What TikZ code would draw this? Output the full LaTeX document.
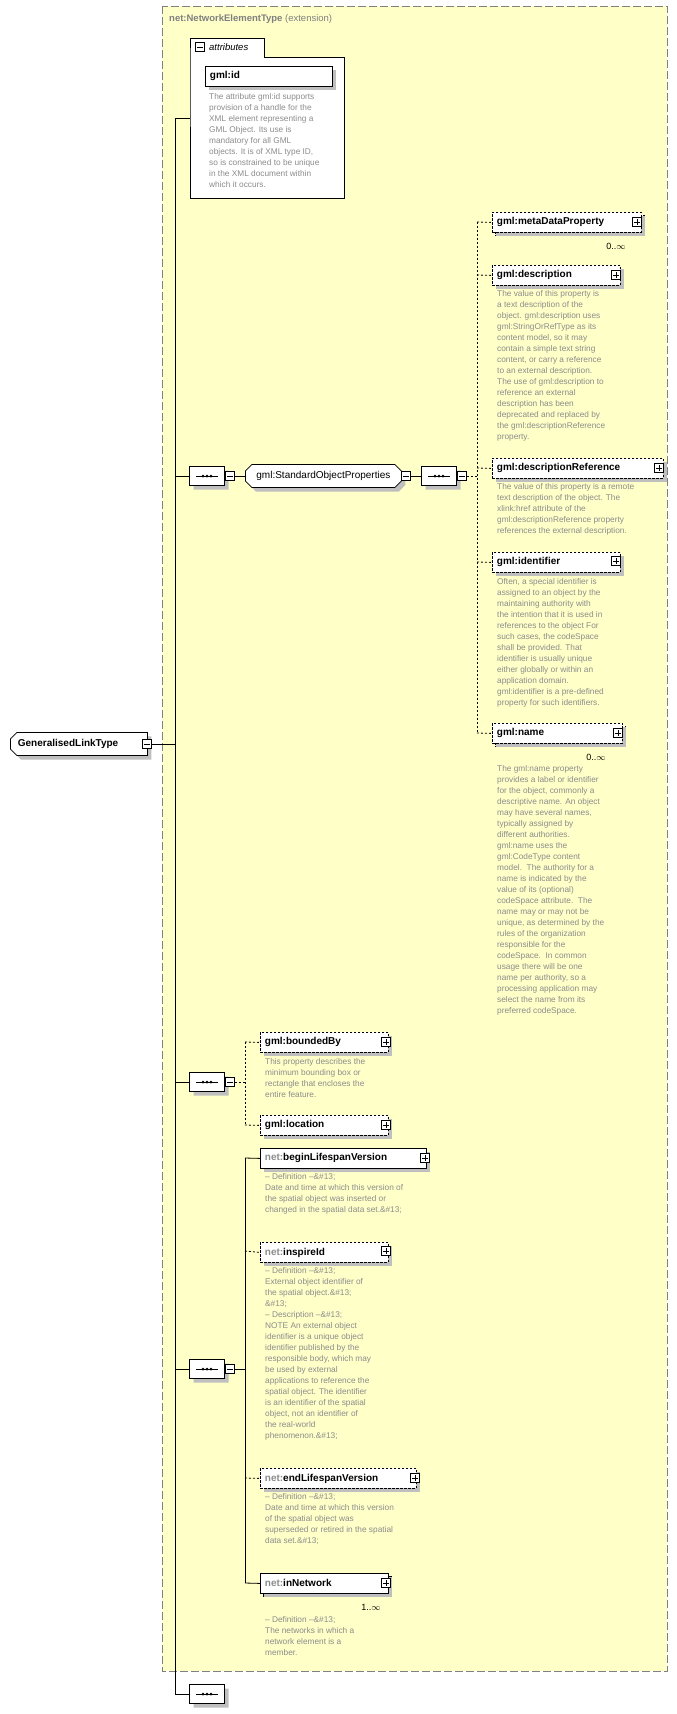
\documentclass[tikz,border=0pt]{standalone}
\usepackage{fontspec}
\setmainfont{Liberation Sans}
\usetikzlibrary{shapes.misc,shadows}
\definecolor{bgy}{HTML}{FFFFC8}
\definecolor{doc}{HTML}{8C8C8C}
\tikzset{
 shd/.style={general shadow={fill=black!25,shadow xshift=4pt,shadow yshift=-4pt}},
 elem/.style={draw,fill=white,line width=0.8pt,anchor=north west,minimum height=20pt,inner xsep=4pt,inner ysep=0pt,align=left,font=\fontsize{10}{12}\selectfont\bfseries,shd},
 opt/.style={dash pattern=on 2.5pt off 1.5pt},
 docu/.style={anchor=north west,inner sep=0pt,align=left,text=doc,font=\fontsize{8.3}{11}\selectfont},
 seq/.style={chamfered rectangle,chamfered rectangle xsep=3pt,draw,fill=white,line width=0.8pt,minimum width=35pt,minimum height=19pt,inner sep=0pt,shd},
 conn/.style={line width=0.8pt},
 dconn/.style={line width=0.8pt,dash pattern=on 2pt off 2pt},
 pm/.style={draw,fill=white,line width=0.6pt,minimum size=9pt,inner sep=0pt},
}
\newcommand{\plusat}[2]{\node[pm] at (#1,#2) {}; \draw[line width=0.6pt] (#1-3,#2) -- (#1+3,#2) (#1,#2-3) -- (#1,#2+3);}
\newcommand{\minusat}[3]{\node[pm] (#1) at (#2,#3) {}; \draw[line width=0.6pt] (#2-3,#3) -- (#2+3,#3);}
\newcommand{\seqat}[3]{\node[seq] (#1) at (#2,#3) {};
 \draw[line width=0.8pt] (#2-11,#3) -- (#2+11,#3);
 \fill (#2-4,#3) circle (1.5pt) (#2,#3) circle (1.5pt) (#2+4,#3) circle (1.5pt);}
\begin{document}
\begin{tikzpicture}[x=1pt,y=-1pt]
\useasboundingbox[fill=white] (0,0) rectangle (677,1714);
\draw[fill=bgy,draw=gray,line width=0.8pt,dash pattern=on 8pt off 3pt] (162,6) rectangle (667,1671);
\node[anchor=west,inner sep=0pt,text=gray,font=\fontsize{9.5}{11}\selectfont] (title) at (169,19) {\textbf{net:NetworkElementType} (extension)};
% attributes
\draw[fill=white,line width=0.8pt] (190,57) -- (190,38) -- (264,38) -- (264,57) -- (344,57) -- (344,198) -- (190,198) -- cycle;
\minusat{attmin}{200}{47}
\node[anchor=west,inner sep=0pt,font=\fontsize{9.5}{11}\selectfont\itshape] (attlab) at (209,47) {attributes};
\node[elem,minimum width=127pt,text width=118pt] (gmlid) at (205,66) {gml:id};
\node[docu] (d0) at (209,93) {The attribute gml:id supports\\provision of a handle for the\\XML element representing a\\GML Object. Its use is\\mandatory for all GML\\objects. It is of XML type ID,\\so is constrained to be unique\\in the XML document within\\which it occurs.};
% root
\node[chamfered rectangle,chamfered rectangle corners={north west,south west},chamfered rectangle xsep=3pt,draw,fill=white,line width=0.8pt,anchor=west,minimum height=20pt,minimum width=137pt,inner xsep=4pt,font=\fontsize{10}{12}\selectfont\bfseries,shd,text width=122pt,align=left] (root) at (10,744) {GeneralisedLinkType};
\minusat{rootmin}{147}{744}
\coordinate (ttop) at (175,118);
\coordinate (tbot) at (175,1694);
\draw[conn] (ttop) -- (tbot);
\draw[conn] (ttop) -- (190,118);
\draw[conn] (rootmin.east) -- (175,744);
% seq1
\seqat{s1}{207}{476}
\minusat{s1m}{230}{476}
\draw[conn] (175,476) -- (s1.west);
\node[chamfered rectangle,chamfered rectangle xsep=3pt,draw,fill=white,line width=0.8pt,anchor=west,minimum height=19pt,minimum width=156pt,inner xsep=5pt,font=\fontsize{10}{12}\selectfont,shd] (sop) at (245,476) {gml:StandardObjectProperties};
\minusat{sopm}{406}{476}
\draw[conn] (s1m.east) -- (sop.west);
\seqat{s2}{439}{476}
\minusat{s2m}{462}{476}
\draw[conn] (sopm.east) -- (s2.west);
\coordinate (b2) at (477,476);
\draw[dconn] (s2m.east) -- (b2);
\draw[dconn] (477,222) -- (477,733);
% children
\draw[fill=white,line width=0.8pt,opt] (495,215) rectangle (644,235);
\node[elem,opt,minimum width=149pt,text width=140pt] (meta) at (492,212) {gml:metaDataProperty};
\plusat{637}{222}
\node[inner sep=0pt,font=\fontsize{9}{10}\selectfont] (m1) at (616,246) {0..$\infty$};
\node[elem,opt,minimum width=128pt,text width=119pt] (desc) at (492,265) {gml:description};
\plusat{616}{275}
\node[docu] (d1) at (497,290) {The value of this property is\\a text description of the\\object. gml:description uses\\gml:StringOrRefType as its\\content model, so it may\\contain a simple text string\\content, or carry a reference\\to an external description.\\The use of gml:description to\\reference an external\\description has been\\deprecated and replaced by\\the gml:descriptionReference\\property.};
\node[elem,opt,minimum width=171pt,text width=162pt] (dref) at (492,458) {gml:descriptionReference};
\plusat{659}{468}
\node[docu] (d2) at (497,483) {The value of this property is a remote\\text description of the object. The\\xlink:href attribute of the\\gml:descriptionReference property\\references the external description.};
\node[elem,opt,minimum width=128pt,text width=119pt] (ident) at (492,552) {gml:identifier};
\plusat{616}{561}
\node[docu] (d3) at (497,578) {Often, a special identifier is\\assigned to an object by the\\maintaining authority with\\the intention that it is used in\\references to the object For\\such cases, the codeSpace\\shall be provided. That\\identifier is usually unique\\either globally or within an\\application domain.\\gml:identifier is a pre-defined\\property for such identifiers.};
\draw[fill=white,line width=0.8pt,opt] (495,726) rectangle (625,746);
\node[elem,opt,minimum width=130pt,text width=121pt] (gname) at (492,723) {gml:name};
\plusat{618}{733}
\node[inner sep=0pt,font=\fontsize{9}{10}\selectfont] (m2) at (596,757) {0..$\infty$};
\node[docu] (d4) at (497,765) {The gml:name property\\provides a label or identifier\\for the object, commonly a\\descriptive name. An object\\may have several names,\\typically assigned by\\different authorities.\\gml:name uses the\\gml:CodeType content\\model.\ \ The authority for a\\name is indicated by the\\value of its (optional)\\codeSpace attribute.\ \ The\\name may or may not be\\unique, as determined by the\\rules of the organization\\responsible for the\\codeSpace.\ \ In common\\usage there will be one\\name per authority, so a\\processing application may\\select the name from its\\preferred codeSpace.};
\draw[dconn] (477,222) -- (meta.west);
\draw[dconn] (477,275) -- (desc.west);
\draw[dconn] (477,468) -- (dref.west);
\draw[dconn] (477,562) -- (ident.west);
\draw[dconn] (477,733) -- (gname.west);
% seq3
\seqat{s3}{207}{1082}
\minusat{s3m}{230}{1082}
\draw[conn] (175,1082) -- (s3.west);
\draw[dconn] (s3m.east) -- (245,1082);
\node[elem,opt,minimum width=128pt,text width=119pt] (bby) at (260,1032) {gml:boundedBy};
\plusat{386}{1042}
\node[docu] (d5) at (265,1058) {This property describes the\\minimum bounding box or\\rectangle that encloses the\\entire feature.};
\node[elem,opt,minimum width=128pt,text width=119pt] (loc) at (260,1115) {gml:location};
\plusat{386}{1125}
\draw[dconn] (245,1042) -- (245,1125);
\draw[dconn] (245,1042) -- (bby.west);
\draw[dconn] (245,1125) -- (loc.west);
% seq4
\seqat{s4}{207}{1369}
\minusat{s4m}{230}{1369}
\draw[conn] (175,1369) -- (s4.west);
\draw[conn] (s4m.east) -- (245,1369);
\node[elem,minimum width=166pt,text width=157pt] (blv) at (260,1148) {\textcolor{doc}{net:}beginLifespanVersion};
\plusat{425}{1158}
\node[docu] (d6) at (265,1173) {-- Definition --\&\#13;\\Date and time at which this version of\\the spatial object was inserted or\\changed in the spatial data set.\&\#13;};
\node[elem,opt,minimum width=128pt,text width=119pt] (iid) at (260,1242) {\textcolor{doc}{net:}inspireId};
\plusat{386}{1251}
\node[docu] (d7) at (265,1267) {-- Definition --\&\#13;\\External object identifier of\\the spatial object.\&\#13;\\\&\#13;\\-- Description --\&\#13;\\NOTE An external object\\identifier is a unique object\\identifier published by the\\responsible body, which may\\be used by external\\applications to reference the\\spatial object. The identifier\\is an identifier of the spatial\\object, not an identifier of\\the real-world\\phenomenon.\&\#13;};
\node[elem,opt,minimum width=156pt,text width=147pt] (elv) at (260,1468) {\textcolor{doc}{net:}endLifespanVersion};
\plusat{415}{1478}
\node[docu] (d8) at (265,1493) {-- Definition --\&\#13;\\Date and time at which this version\\of the spatial object was\\superseded or retired in the spatial\\data set.\&\#13;};
\draw[fill=white,line width=0.8pt] (263,1576) rectangle (391,1596);
\node[elem,minimum width=128pt,text width=119pt] (inn) at (260,1573) {\textcolor{doc}{net:}inNetwork};
\plusat{386}{1583}
\node[inner sep=0pt,font=\fontsize{9}{10}\selectfont] (m3) at (371,1607) {1..$\infty$};
\node[docu] (d9) at (265,1616) {-- Definition --\&\#13;\\The networks in which a\\network element is a\\member.};
\draw[conn] (245,1158) -- (245,1583);
\draw[conn] (245,1158) -- (blv.west);
\draw[conn] (245,1583) -- (inn.west);
\draw[dconn] (245,1251) -- (iid.west);
\draw[dconn] (245,1478) -- (elv.west);
% seq5
\seqat{s5}{207}{1694}
\draw[conn] (tbot) -- (s5.west);
\end{tikzpicture}
\end{document}
